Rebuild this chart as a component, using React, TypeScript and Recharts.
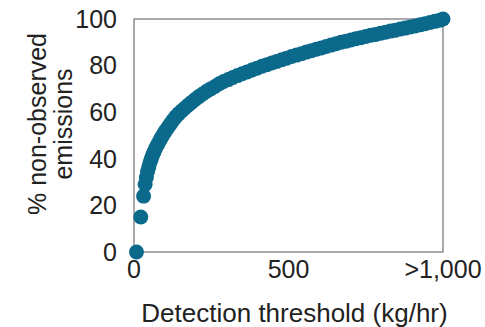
import React from 'react';
import { ScatterChart, Scatter, XAxis, YAxis, ReferenceArea } from 'recharts';

const thresholdKgHr = [
  8, 22, 31, 36, 40, 44, 48, 52, 56, 60, 65, 70, 76, 82, 88, 95, 102, 110, 118, 126,
  135, 144, 154, 164, 175, 186, 198, 210, 222, 235, 248, 262, 276, 290, 305, 320, 335,
  350, 366, 382, 398, 414, 430, 446, 462, 478, 494, 510, 526, 542, 558, 574, 590, 606,
  622, 638, 654, 670, 686, 702, 718, 734, 750, 766, 782, 798, 814, 830, 846, 862, 878,
  894, 910, 926, 942, 958, 974, 990, 1000,
];

const pctNonObserved = [
  0, 15, 24, 29, 32, 34.5, 36.5, 38.5, 40, 41.5, 43, 44.5, 46, 47.5, 49, 50.5, 52, 53.5, 55, 56.5,
  58, 59.3, 60.5, 61.7, 63, 64.2, 65.5, 66.7, 67.8, 69, 70, 71, 72.2, 73.2, 74, 74.9, 75.7,
  76.5, 77.3, 78.1, 78.9, 79.7, 80.4, 81.1, 81.8, 82.5, 83.2, 83.9, 84.5, 85.1, 85.8, 86.4, 87, 87.6,
  88.2, 88.8, 89.4, 90, 90.5, 91, 91.5, 92, 92.5, 93, 93.4, 93.9, 94.3, 94.8, 95.2, 95.7, 96.1,
  96.6, 97, 97.5, 98, 98.5, 99, 99.5, 100,
];

const xTicks = [0, 500, 1000];
const xTickLabels = ['0', '500', '>1,000'];
const yTicks = [0, 20, 40, 60, 80, 100];

const xTitle = 'Detection threshold (kg/hr)';
const yTitleLines = ['% non-observed', 'emissions'];

const data = thresholdKgHr.map((x, i) => ({ x, y: pctNonObserved[i] }));

const FONT = '"Liberation Sans", Arial, Helvetica, sans-serif';
const TEXT = '#222222';
const TEAL = '#0b6a8b';

const Dot = (props: any) => {
  const { cx, cy } = props;
  if (cx == null || cy == null) return null;
  return <circle cx={cx} cy={cy} r={7.5} fill={TEAL} />;
};

const XTitle = (props: any) => {
  const vb = props.viewBox || {};
  const cx = (vb.x ?? 134) + (vb.width ?? 309) / 2 + 6;
  return (
    <text x={cx} y={322} textAnchor="middle" fontFamily={FONT} fontSize={26} fill={TEXT}>
      {xTitle}
    </text>
  );
};

const YTitle = () => {
  const cy = 124;
  return (
    <g>
      <text
        x={46}
        y={cy}
        transform={`rotate(-90, 46, ${cy})`}
        textAnchor="middle"
        fontFamily={FONT}
        fontSize={25}
        fill={TEXT}
      >
        {yTitleLines[0]}
      </text>
      <text
        x={72}
        y={cy}
        transform={`rotate(-90, 72, ${cy})`}
        textAnchor="middle"
        fontFamily={FONT}
        fontSize={25}
        fill={TEXT}
      >
        {yTitleLines[1]}
      </text>
    </g>
  );
};

export default function App() {
  return (
    <div style={{ position: 'absolute', left: 0, top: 0, width: 485, height: 327, background: '#fff' }}>
      <ScatterChart width={485} height={327} margin={{ top: 19, right: 42, bottom: 0, left: 0 }}>
        <XAxis
          type="number"
          dataKey="x"
          domain={[0, 1000]}
          ticks={xTicks}
          tickFormatter={(v: number) => xTickLabels[xTicks.indexOf(v)] ?? String(v)}
          axisLine={false}
          tickLine={false}
          tickSize={0}
          tickMargin={8}
          height={75}
          interval={0}
          tick={{ fontFamily: FONT, fontSize: 25, fill: TEXT }}
          label={{ value: xTitle, content: XTitle }}
        />
        <YAxis
          type="number"
          dataKey="y"
          domain={[0, 100]}
          ticks={yTicks}
          axisLine={false}
          tickLine={false}
          tickSize={0}
          tickMargin={17}
          width={134}
          interval={0}
          tick={{ fontFamily: FONT, fontSize: 25, fill: TEXT }}
          label={{ value: yTitleLines.join(' '), content: YTitle }}
        />
        <ReferenceArea
          x1={0}
          x2={1000}
          y1={0}
          y2={100}
          fill="none"
          fillOpacity={0}
          stroke="#8f8f8f"
          strokeWidth={1.5}
          ifOverflow="visible"
        />
        <Scatter data={data} shape={Dot} fill={TEAL} isAnimationActive={false} />
      </ScatterChart>
    </div>
  );
}
